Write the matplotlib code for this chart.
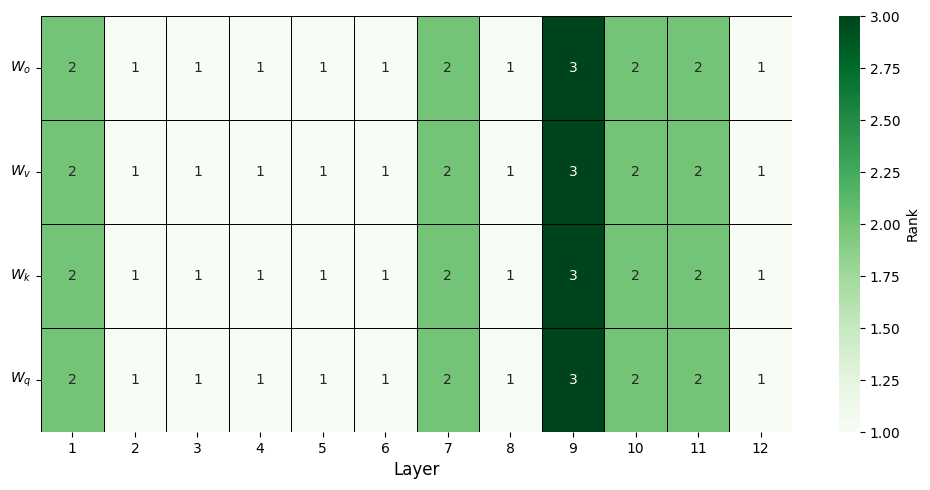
import matplotlib
matplotlib.use("Agg")
import matplotlib.pyplot as plt
import numpy as np
import seaborn as sns

layers = [str(i) for i in range(1, 13)]
matrices = ["$W_o$", "$W_v$", "$W_k$", "$W_q$"]
ranks_wo = [2, 1, 1, 1, 1, 1, 2, 1, 3, 2, 2, 1]
ranks_wv = [2, 1, 1, 1, 1, 1, 2, 1, 3, 2, 2, 1]
ranks_wk = [2, 1, 1, 1, 1, 1, 2, 1, 3, 2, 2, 1]
ranks_wq = [2, 1, 1, 1, 1, 1, 2, 1, 3, 2, 2, 1]

data = np.array([ranks_wo, ranks_wv, ranks_wk, ranks_wq])

fig = plt.figure(figsize=(9.3, 4.9), dpi=100)
ax = fig.add_axes([41/930, 1-432/490, (792-41)/930, (432-16)/490])
cax = fig.add_axes([839/930, 1-432/490, 21/930, (432-16)/490])
sns.heatmap(data, ax=ax, cbar_ax=cax, cmap="Greens", vmin=1, vmax=3,
            annot=True, fmt="d", linewidths=0.5, linecolor="black",
            xticklabels=layers, yticklabels=matrices,
            cbar_kws={"label": "Rank"})
ax.set_xlabel("Layer", fontsize=12)
ax.set_yticklabels(matrices, rotation=0)
fig.savefig("out.png", dpi=100)
